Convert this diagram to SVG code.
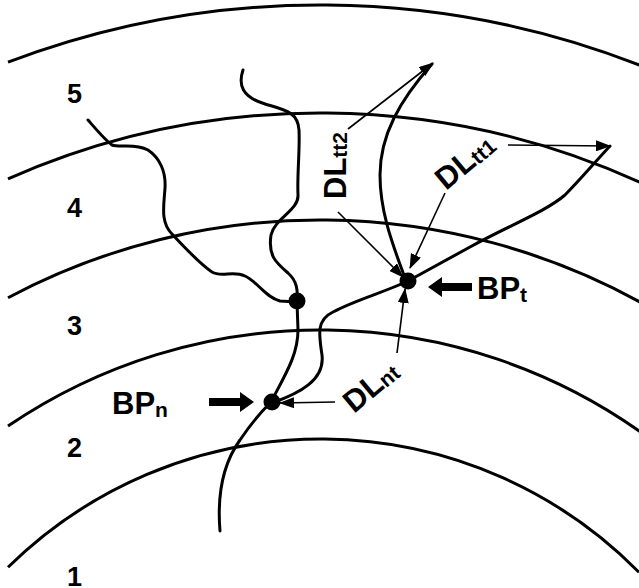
<svg xmlns="http://www.w3.org/2000/svg" width="639" height="588" viewBox="0 0 639 588">
<defs>
<marker id="ah" markerWidth="15" markerHeight="11" refX="14" refY="5.5" orient="auto" markerUnits="userSpaceOnUse">
<path d="M0,0 L15,5.5 L0,11 Z" fill="#000"/>
</marker>
</defs>
<style>
.arc{fill:none;stroke:#000;stroke-width:3}
.root{fill:none;stroke:#000;stroke-width:3;stroke-linecap:round;stroke-linejoin:round}
.thin{fill:none;stroke:#000;stroke-width:1.6;marker-end:url(#ah)}
.lbl{font-family:"Liberation Sans",Arial,sans-serif;font-weight:bold;fill:#000}
.num{font-size:27px}
.big{font-size:31px}
.sub{font-size:21px}
</style>
<rect width="639" height="588" fill="#fff"/>
<g id="arcs">
<path class="arc" d="M8,62.2 A880,880 0 0 1 645,67.2"/>
<path class="arc" d="M8,178.9 A772,772 0 0 1 645,184.7"/>
<path class="arc" d="M8,297.7 A665,665 0 0 1 645,304.8"/>
<path class="arc" d="M8,426 A555,555 0 0 1 645,435.1"/>
<path class="arc" d="M8,567.3 A446,446 0 0 1 639,572.3"/>
</g>
<g id="zone-labels" class="lbl num">
<text x="67" y="103">5</text>
<text x="67" y="217">4</text>
<text x="67" y="335">3</text>
<text x="67" y="457">2</text>
<text x="67" y="586">1</text>
</g>
<g id="connectors">
<path class="root" d="M220,531 C217,495 222,465 240,440 C250,425 258,415 271,402"/>
<path class="root" d="M271,402 C285,375 298,355 298,330 L297,302"/>
<path class="root" d="M272,403 C300,393 325,380 322,355 C319,335 316,320 333,312 C355,300 385,292 408,281 L470,247 C510,225 545,212 565,195 C580,180 595,162 610,146"/>
<path class="root" d="M406,281 C395,250 380,215 380,175 C380,135 400,100 432,64"/>
<path class="root" d="M243,70 C238,85 242,97 265,104 C285,110 298,112 299,130 C300,150 297,175 298,195 C299,210 275,218 271,235 C268,255 275,262 288,273 C297,281 298,290 297,302"/>
<path class="root" d="M88,120 C95,128 105,140 112,145 C120,148 135,143 148,150 C160,158 166,172 165,188 C164,205 160,222 172,234 C185,248 200,264 212,272 C222,278 232,270 245,276 C258,282 265,297 280,301 L297,302"/>
<line class="thin" x1="335" y1="402" x2="280" y2="403"/>
<line class="thin" x1="397" y1="353" x2="405" y2="289"/>
<line class="thin" x1="348" y1="129" x2="433" y2="63"/>
<line class="thin" x1="338" y1="212" x2="403" y2="277"/>
<line class="thin" x1="445" y1="193" x2="410" y2="268"/>
<line class="thin" x1="508" y1="145" x2="610" y2="146"/>
<path d="M209,398 L240,398 L240,392 L254,402 L240,412 L240,406 L209,406 Z" fill="#000"/>
<path d="M472,283 L442,283 L442,277 L428,287 L442,297 L442,291 L472,291 Z" fill="#000"/>
</g>
<g id="BPn">
<circle cx="272" cy="402" r="8.5" fill="#000"/>
<text class="lbl big" x="112" y="414">BP<tspan class="sub" dy="3">n</tspan></text>
</g>
<g id="junction">
<circle cx="297" cy="301" r="8.5" fill="#000"/>
</g>
<g id="BPt">
<circle cx="408" cy="281" r="8.5" fill="#000"/>
<text class="lbl big" x="477" y="299">BP<tspan class="sub" dy="3">t</tspan></text>
</g>
<g id="DLtt2">
<text class="lbl big" transform="translate(346,199) rotate(-90)">DL<tspan class="sub" dy="1">tt2</tspan></text>
</g>
<g id="DLtt1">
<text class="lbl big" transform="translate(446,191) rotate(-40)">DL<tspan class="sub" dy="1">tt1</tspan></text>
</g>
<g id="DLnt">
<text class="lbl big" transform="translate(354,414) rotate(-40)">DL<tspan class="sub" dy="1">nt</tspan></text>
</g>
</svg>
